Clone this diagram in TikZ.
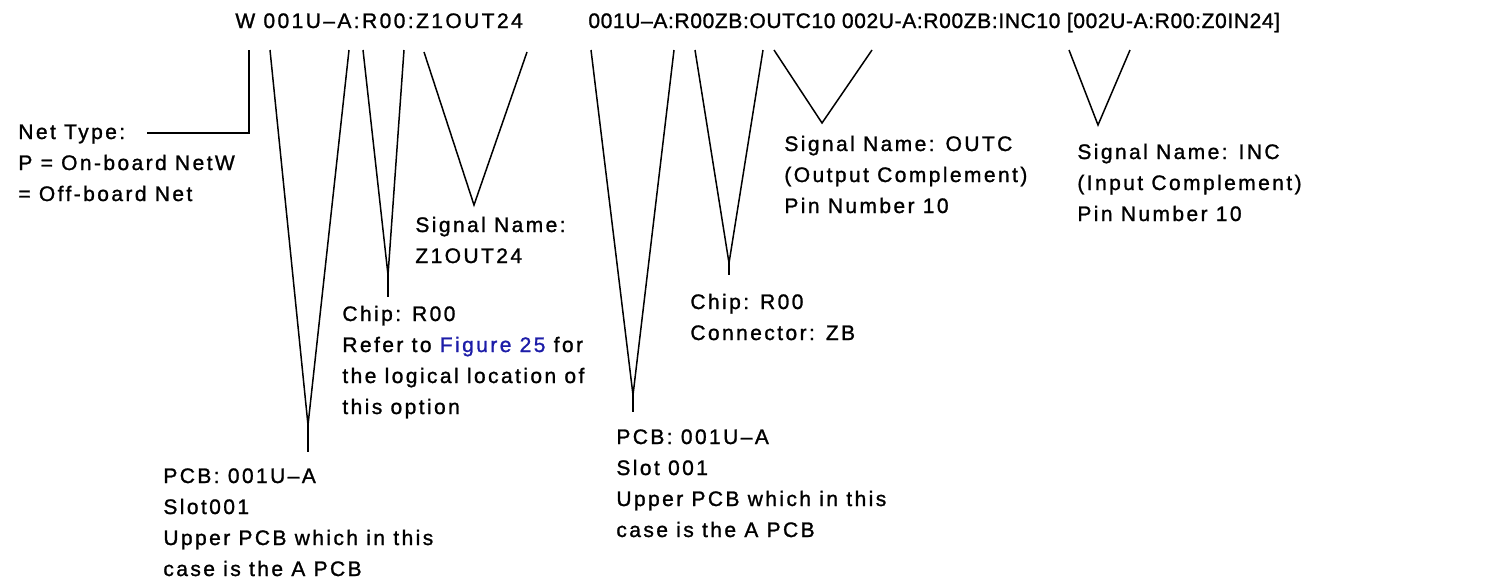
\documentclass[tikz,border=0pt]{standalone}
\usepackage{fontspec}
\setmainfont{Liberation Sans}[LetterSpace=11.5,FakeBold=1.2]
\definecolor{figblue}{RGB}{28,28,168}
\begin{document}
\begin{tikzpicture}[x=0.5pt,y=-0.5pt,
    lbl/.style={anchor=base west,inner sep=0pt,align=left,font=\fontsize{10.5}{15.5}\selectfont},
    tight/.style={font=\fontsize{10.5}{15.5}\selectfont\addfontfeature{LetterSpace=3}},
    leg/.style={line width=0.75pt},
    stem/.style={line width=1.4pt}]
    \useasboundingbox (0,0) rectangle (1491,586);
    \node (codeA) at (235,28) [lbl] {W 001U--A:R00:Z1OUT24};
    \node (codeB) at (588,28) [lbl,tight] {001U--A:R00ZB:OUTC10 002U-A:R00ZB:INC10 [002U-A:R00:Z0IN24]};
    \node (nettype) at (18,201) [lbl] {Net Type:\\P = On-board NetW\\= Off-board Net};
    \node (sigA) at (415,263) [lbl] {Signal Name:\\Z1OUT24};
    \node (chipA) at (342,414) [lbl] {Chip: R00\\Refer to \textcolor{figblue}{Figure 25} for\\the logical location of\\this option};
    \node (pcbA) at (163,576) [lbl] {PCB: 001U--A\\Slot001\\Upper PCB which in this\\case is the A PCB};
    \node (pcbB) at (616,537) [lbl] {PCB: 001U--A\\Slot 001\\Upper PCB which in this\\case is the A PCB};
    \node (chipB) at (690,340) [lbl] {Chip: R00\\Connector: ZB};
    \node (outc) at (784,213) [lbl] {Signal Name: OUTC\\(Output Complement)\\Pin Number 10};
    \node (inc) at (1077,221) [lbl] {Signal Name: INC\\(Input Complement)\\Pin Number 10};
    \coordinate (ntop) at (249,50);
    \coordinate (nend) at (147,133);
    \draw[leg] (ntop) |- (nend);
    \coordinate (pcbAl) at (270,50);
    \coordinate (pcbAr) at (349,50);
    \coordinate (pcbAtip) at (308,425);
    \coordinate (pcbAend) at (308,452);
    \draw[leg] (pcbAl) -- (pcbAtip) -- (pcbAr);
    \draw[stem] (pcbAtip) -- (pcbAend);
    \coordinate (chipAl) at (363,50);
    \coordinate (chipAr) at (404,50);
    \coordinate (chipAtip) at (388,275);
    \coordinate (chipAend) at (388,297);
    \draw[leg] (chipAl) -- (chipAtip) -- (chipAr);
    \draw[stem] (chipAtip) -- (chipAend);
    \coordinate (sigAl) at (424,52);
    \coordinate (sigAr) at (527,52);
    \coordinate (sigAtip) at (474,205);
    \draw[leg] (sigAl) -- (sigAtip) -- (sigAr);
    \coordinate (pcbBl) at (591,50);
    \coordinate (pcbBr) at (674,50);
    \coordinate (pcbBtip) at (633,395);
    \coordinate (pcbBend) at (633,412);
    \draw[leg] (pcbBl) -- (pcbBtip) -- (pcbBr);
    \draw[stem] (pcbBtip) -- (pcbBend);
    \coordinate (chipBl) at (695,50);
    \coordinate (chipBr) at (763,50);
    \coordinate (chipBtip) at (729,263);
    \coordinate (chipBend) at (729,275);
    \draw[leg] (chipBl) -- (chipBtip) -- (chipBr);
    \draw[stem] (chipBtip) -- (chipBend);
    \coordinate (outcl) at (774,50);
    \coordinate (outcr) at (872,50);
    \coordinate (outctip) at (822,123);
    \draw[leg] (outcl) -- (outctip) -- (outcr);
    \coordinate (incl) at (1069,50);
    \coordinate (incr) at (1130,50);
    \coordinate (inctip) at (1098,125);
    \draw[leg] (incl) -- (inctip) -- (incr);
\end{tikzpicture}
\end{document}
